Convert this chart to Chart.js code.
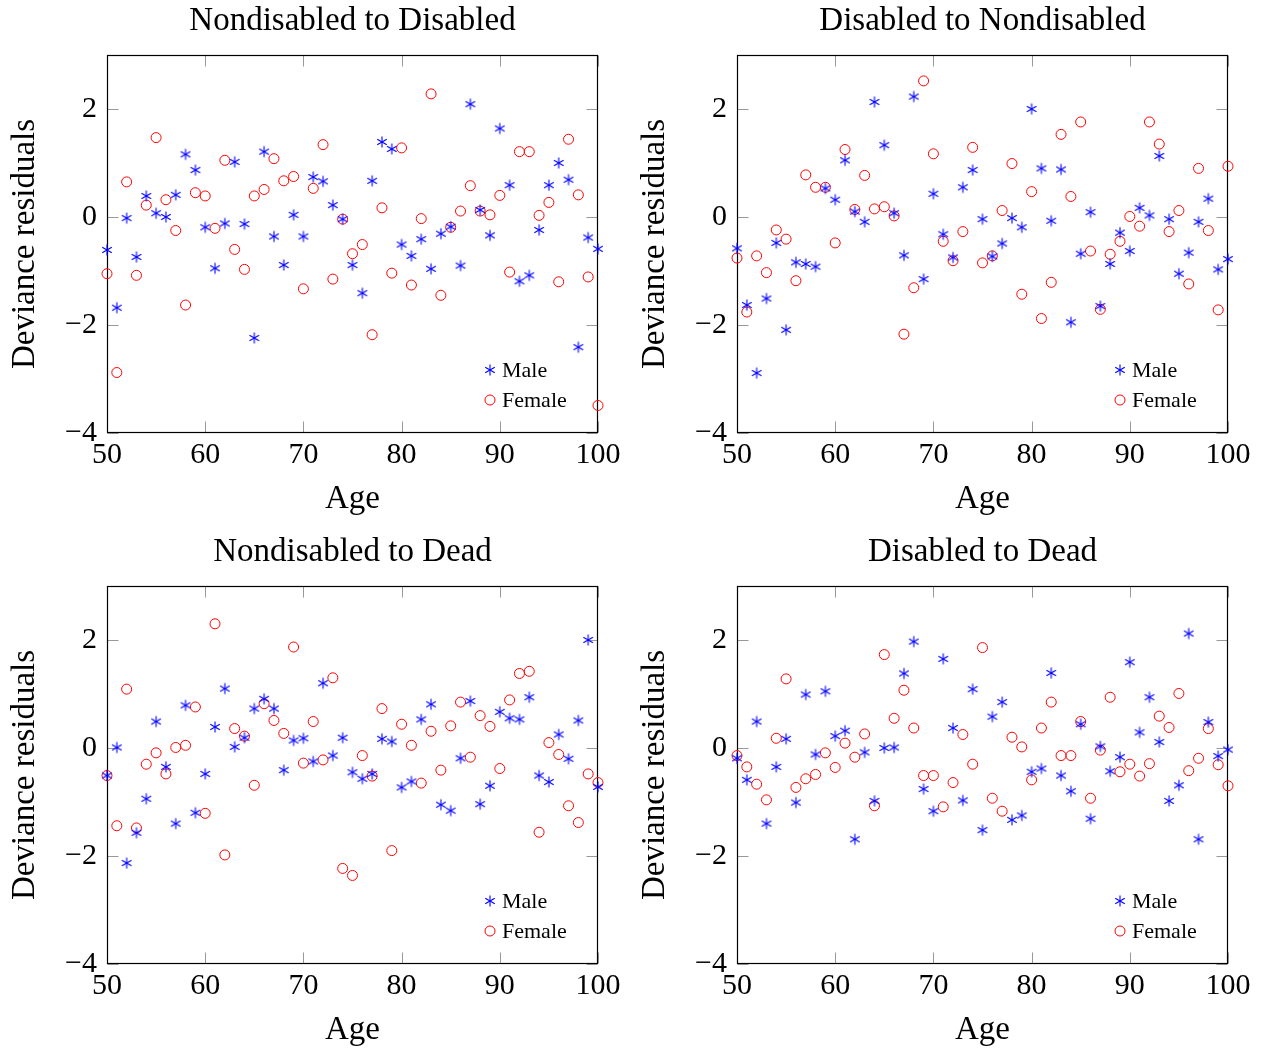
<!DOCTYPE html>
<html>
<head>
<meta charset="utf-8">
<title>Deviance residuals</title>
<script src="https://cdn.jsdelivr.net/npm/chart.js@4.4.1/dist/chart.umd.min.js"></script>
<style>
  body { margin: 0; background: #fff; overflow: hidden; }
  #wrap { position: relative; width: 1263px; height: 1048px; }
  #wrap canvas { position: absolute; }
</style>
</head>
<body>
<div id="wrap">
  <canvas id="c1" width="630" height="531" style="left:0px;top:0px"></canvas>
  <canvas id="c2" width="630" height="531" style="left:630px;top:0px"></canvas>
  <canvas id="c3" width="630" height="531" style="left:0px;top:531px"></canvas>
  <canvas id="c4" width="630" height="531" style="left:630px;top:531px"></canvas>
</div>
<script>
// Wiek (os X)
var ages = [50, 51, 52, 53, 54, 55, 56, 57, 58, 59,
            60, 61, 62, 63, 64, 65, 66, 67, 68, 69,
            70, 71, 72, 73, 74, 75, 76, 77, 78, 79,
            80, 81, 82, 83, 84, 85, 86, 87, 88, 89,
            90, 91, 92, 93, 94, 95, 96, 97, 98, 99,
            100];

var xTicks = [50, 60, 70, 80, 90, 100];
var yTicks = [-4, -2, 0, 2];

// Nondisabled to Disabled
var ndToDisMale = [-0.61, -1.68, -0.02, -0.74, 0.39, 0.07, 0.00, 0.41, 1.16, 0.87,
                   -0.19, -0.95, -0.12, 1.02, -0.13, -2.24, 1.21, -0.36, -0.89, 0.04,
                   -0.36, 0.74, 0.66, 0.22, -0.04, -0.89, -1.41, 0.67, 1.39, 1.26,
                   -0.51, -0.72, -0.41, -0.96, -0.31, -0.18, -0.90, 2.09, 0.13, -0.34,
                   1.64, 0.59, -1.19, -1.08, -0.24, 0.59, 1.00, 0.69, -2.41, -0.38,
                   -0.59];
var ndToDisFemale = [-1.05, -2.88, 0.65, -1.08, 0.22, 1.47, 0.32, -0.25, -1.63, 0.45,
                     0.39, -0.21, 1.05, -0.60, -0.97, 0.39, 0.51, 1.08, 0.67, 0.75,
                     -1.33, 0.53, 1.34, -1.15, -0.04, -0.68, -0.51, -2.18, 0.17, -1.04,
                     1.28, -1.26, -0.03, 2.28, -1.45, -0.19, 0.11, 0.58, 0.11, 0.04,
                     0.40, -1.02, 1.21, 1.21, 0.03, 0.27, -1.20, 1.44, 0.41, -1.11,
                     -3.49];

// Disabled to Nondisabled
var disToNdMale = [-0.58, -1.63, -2.89, -1.51, -0.48, -2.09, -0.84, -0.87, -0.92, 0.53,
                   0.32, 1.05, 0.10, -0.09, 2.13, 1.33, 0.07, -0.71, 2.23, -1.15,
                   0.43, -0.32, -0.75, 0.55, 0.87, -0.04, -0.73, -0.49, -0.02, -0.19,
                   2.00, 0.90, -0.07, 0.88, -1.95, -0.68, 0.09, -1.65, -0.87, -0.29,
                   -0.63, 0.17, 0.03, 1.13, -0.04, -1.05, -0.66, -0.09, 0.34, -0.97,
                   -0.78];
var disToNdFemale = [-0.76, -1.76, -0.72, -1.03, -0.24, -0.41, -1.18, 0.78, 0.55, 0.55,
                     -0.48, 1.25, 0.14, 0.77, 0.15, 0.19, 0.02, -2.17, -1.31, 2.52,
                     1.17, -0.45, -0.81, -0.27, 1.29, -0.85, -0.72, 0.12, 0.99, -1.43,
                     0.47, -1.88, -1.21, 1.53, 0.38, 1.76, -0.63, -1.71, -0.69, -0.45,
                     0.01, -0.17, 1.76, 1.35, -0.27, 0.12, -1.24, 0.90, -0.25, -1.72,
                     0.94];

// Nondisabled to Dead
var ndToDeadMale = [-0.51, 0.01, -2.13, -1.57, -0.94, 0.49, -0.35, -1.40, 0.79, -1.20,
                    -0.48, 0.39, 1.10, 0.02, 0.19, 0.73, 0.91, 0.73, -0.41, 0.14,
                    0.18, -0.25, 1.20, -0.14, 0.19, -0.45, -0.57, -0.48, 0.17, 0.12,
                    -0.73, -0.62, 0.53, 0.81, -1.05, -1.16, -0.19, 0.87, -1.04, -0.70,
                    0.67, 0.55, 0.53, 0.94, -0.51, -0.63, 0.25, -0.20, 0.51, 2.00,
                    -0.72];
var ndToDeadFemale = [-0.51, -1.44, 1.09, -1.48, -0.30, -0.09, -0.48, 0.01, 0.05, 0.76,
                      -1.21, 2.30, -1.98, 0.36, 0.22, -0.69, 0.82, 0.51, 0.27, 1.87,
                      -0.28, 0.49, -0.22, 1.30, -2.23, -2.36, -0.14, -0.52, 0.73, -1.90,
                      0.44, 0.05, -0.65, 0.31, -0.41, 0.41, 0.85, -0.17, 0.60, 0.40,
                      -0.38, 0.89, 1.38, 1.42, -1.56, 0.10, -0.12, -1.07, -1.38, -0.48,
                      -0.64];

// Disabled to Dead
var disToDeadMale = [-0.19, -0.59, 0.49, -1.40, -0.35, 0.17, -1.01, 0.99, -0.12, 1.05,
                     0.22, 0.32, -1.69, -0.08, -0.98, 0.00, 0.01, 1.38, 1.97, -0.76,
                     -1.17, 1.65, 0.37, -0.97, 1.09, -1.52, 0.58, 0.85, -1.33, -1.25,
                     -0.44, -0.38, 1.39, -0.51, -0.80, 0.44, -1.31, 0.03, -0.43, -0.17,
                     1.59, 0.29, 0.94, 0.11, -0.98, -0.69, 2.12, -1.69, 0.48, -0.15,
                     -0.03];
var disToDeadFemale = [-0.14, -0.35, -0.67, -0.96, 0.18, 1.28, -0.73, -0.57, -0.49, -0.09,
                       -0.36, 0.09, -0.17, 0.26, -1.07, 1.73, 0.55, 1.07, 0.37, -0.51,
                       -0.51, -1.09, -0.64, 0.25, -0.30, 1.86, -0.93, -1.17, 0.20, 0.02,
                       -0.59, 0.37, 0.85, -0.14, -0.14, 0.49, -0.93, -0.04, 0.94, -0.44,
                       -0.30, -0.52, -0.29, 0.59, 0.38, 1.01, -0.42, -0.19, 0.36, -0.31,
                       -0.70];

var FONT = '"Liberation Serif", "Times New Roman", serif';

// Gwiazdka z 6 ramionami (jak w pgfplots)
function makeStar() {
    var c = document.createElement('canvas');
    c.width = 14;
    c.height = 14;
    var g = c.getContext('2d');
    g.strokeStyle = '#0000ff';
    g.lineWidth = 1.1;
    var r = 5.5;
    [90, 30, 150].forEach(function(deg) {
        var a = deg * Math.PI / 180;
        g.beginPath();
        g.moveTo(7 - r * Math.cos(a), 7 - r * Math.sin(a));
        g.lineTo(7 + r * Math.cos(a), 7 + r * Math.sin(a));
        g.stroke();
    });
    return c;
}
var starImg = makeStar();

function toPoints(values) {
    return values.map(function(v, i) { return {x: ages[i], y: v}; });
}

function minusLabel(v) {
    return v < 0 ? '\u2212' + Math.abs(v) : String(v);
}

// Ramka i znaczniki do srodka
var framePlugin = {
    id: 'frame',
    beforeDatasetsDraw: function(chart) {
        var ctx = chart.ctx;
        var a = chart.chartArea;
        var xs = chart.scales.x, ys = chart.scales.y;
        var L = Math.round(a.left) + 0.5, R = Math.round(a.right) - 0.5;
        var T = Math.round(a.top) + 0.5, B = Math.round(a.bottom) - 0.5;
        ctx.save();
        ctx.strokeStyle = '#999';
        ctx.lineWidth = 1;
        xTicks.forEach(function(v) {
            var px = Math.round(xs.getPixelForValue(v)) + 0.5;
            ctx.beginPath();
            ctx.moveTo(px, B); ctx.lineTo(px, B - 11);
            ctx.moveTo(px, T); ctx.lineTo(px, T + 11);
            ctx.stroke();
        });
        yTicks.forEach(function(v) {
            var py = Math.round(ys.getPixelForValue(v)) + 0.5;
            ctx.beginPath();
            ctx.moveTo(L, py); ctx.lineTo(L + 11, py);
            ctx.moveTo(R, py); ctx.lineTo(R - 11, py);
            ctx.stroke();
        });
        ctx.strokeStyle = '#000';
        ctx.lineWidth = 1.2;
        ctx.strokeRect(L, T, R - L, B - T);
        ctx.restore();
    }
};

// Legenda w prawym dolnym rogu wykresu
var insideLegend = {
    id: 'insideLegend',
    afterDraw: function(chart) {
        var ctx = chart.ctx;
        var a = chart.chartArea;
        var mx = a.right - 108;
        var rows = [a.bottom - 63, a.bottom - 33];
        ctx.save();
        ctx.font = '22px ' + FONT;
        ctx.fillStyle = '#000';
        ctx.textBaseline = 'middle';
        ctx.textAlign = 'left';
        chart.data.datasets.forEach(function(ds, i) {
            var y = rows[i];
            if (ds.pointStyle === 'circle') {
                ctx.beginPath();
                ctx.strokeStyle = ds.borderColor;
                ctx.lineWidth = ds.borderWidth;
                ctx.arc(mx, y, ds.pointRadius, 0, Math.PI * 2);
                ctx.stroke();
            } else {
                ctx.drawImage(starImg, mx - 7, y - 7);
            }
            ctx.fillText(ds.label, mx + 12, y + 1);
        });
        ctx.restore();
    }
};

function makeChart(canvasId, title, maleData, femaleData) {
    var ctx = document.getElementById(canvasId).getContext('2d');
    return new Chart(ctx, {
        type: 'scatter',
        data: {
            datasets: [{
                label: 'Male',
                data: toPoints(maleData),
                pointStyle: starImg,
                pointRadius: 5,
                borderColor: '#0000ff',
                backgroundColor: '#0000ff',
                clip: false
            }, {
                label: 'Female',
                data: toPoints(femaleData),
                pointStyle: 'circle',
                pointRadius: 5,
                borderColor: '#ff0000',
                borderWidth: 1,
                backgroundColor: 'rgba(0,0,0,0)',
                clip: false
            }]
        },
        options: {
            responsive: false,
            animation: false,
            layout: { padding: { left: 0, right: 32, top: 0, bottom: 0 } },
            plugins: {
                legend: { display: false },
                tooltip: { enabled: false },
                title: {
                    display: true,
                    fullSize: false,
                    text: title,
                    color: '#000',
                    font: { family: FONT, size: 33, weight: 'normal' },
                    padding: { top: 2, bottom: 13.4 }
                }
            },
            scales: {
                x: {
                    type: 'linear',
                    min: 50,
                    max: 100,
                    afterBuildTicks: function(s) { s.ticks = xTicks.map(function(v) { return {value: v}; }); },
                    afterFit: function(s) { s.height = 98; },
                    grid: { display: false, drawTicks: false },
                    border: { display: false },
                    ticks: { color: '#000', font: { family: FONT, size: 30 }, padding: 4, maxRotation: 0, autoSkip: false },
                    title: {
                        display: true, text: 'Age', color: '#000',
                        font: { family: FONT, size: 33 },
                        padding: { top: 0, bottom: 12 }
                    }
                },
                y: {
                    type: 'linear',
                    min: -4,
                    max: 3,
                    afterBuildTicks: function(s) { s.ticks = yTicks.map(function(v) { return {value: v}; }); },
                    afterFit: function(s) { s.width = 107; },
                    grid: { display: false, drawTicks: false },
                    border: { display: false },
                    ticks: { color: '#000', font: { family: FONT, size: 30 }, padding: 10, callback: minusLabel },
                    title: {
                        display: true, text: 'Deviance residuals', color: '#000',
                        font: { family: FONT, size: 33 },
                        padding: { top: 6, bottom: 0 }
                    }
                }
            }
        },
        plugins: [framePlugin, insideLegend]
    });
}

makeChart('c1', 'Nondisabled to Disabled', ndToDisMale, ndToDisFemale);
makeChart('c2', 'Disabled to Nondisabled', disToNdMale, disToNdFemale);
makeChart('c3', 'Nondisabled to Dead', ndToDeadMale, ndToDeadFemale);
makeChart('c4', 'Disabled to Dead', disToDeadMale, disToDeadFemale);
</script>
</body>
</html>
